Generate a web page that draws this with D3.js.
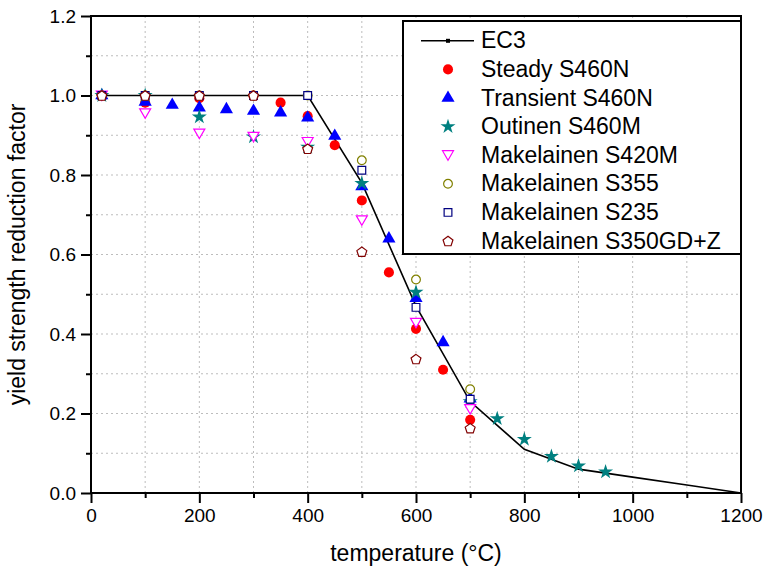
<!DOCTYPE html>
<html>
<head>
<meta charset="utf-8">
<script src="https://cdn.jsdelivr.net/npm/d3@7"></script>
<style>
  body { margin: 0; background: #fff; }
  svg { display: block; font-family: "Liberation Sans", Arial, sans-serif; }
</style>
</head>
<body>
<svg width="763" height="570"></svg>
<script>
// EC3 reduction curve
const ec3Temp = [20, 100, 200, 300, 400, 500, 600, 700, 800, 900, 1000, 1100, 1200];
const ec3Val  = [1.0, 1.0, 1.0, 1.0, 1.0, 0.78, 0.47, 0.23, 0.11, 0.06, 0.04, 0.02, 0.0];

// test data, temperature / reduction factor
const steadyTemp = [20, 100, 200, 300, 350, 400, 450, 500, 550, 600, 650, 700];
const steadyVal  = [1.0, 0.982, 0.993, 1.0, 0.982, 0.948, 0.875, 0.736, 0.555, 0.413, 0.31, 0.184];

const transTemp = [20, 100, 150, 200, 250, 300, 350, 400, 450, 500, 550, 600, 650, 700];
const transVal  = [1.0, 0.984, 0.976, 0.969, 0.965, 0.961, 0.957, 0.944, 0.898, 0.771, 0.64, 0.49, 0.379, 0.237];

const outinenTemp = [20, 100, 200, 300, 400, 500, 600, 700, 750, 800, 850, 900, 950];
const outinenVal  = [1.0, 1.0, 0.946, 0.896, 0.87, 0.779, 0.505, 0.23, 0.187, 0.135, 0.092, 0.068, 0.053];

const mak420Temp = [20, 100, 200, 300, 400, 500, 600, 700];
const mak420Val  = [1.0, 0.955, 0.904, 0.896, 0.883, 0.686, 0.428, 0.211];

const mak355Temp = [20, 100, 200, 300, 400, 500, 600, 700];
const mak355Val  = [1.0, 1.0, 1.0, 1.0, 1.0, 0.837, 0.537, 0.261];

const mak235Temp = [20, 100, 200, 300, 400, 500, 600, 700];
const mak235Val  = [1.0, 1.0, 1.0, 1.0, 1.0, 0.812, 0.467, 0.236];

const mak350Temp = [20, 100, 200, 300, 400, 500, 600, 700];
const mak350Val  = [1.0, 1.0, 1.0, 1.0, 0.866, 0.607, 0.337, 0.163];

const xTicks = [0, 200, 400, 600, 800, 1000, 1200];
const yTicks = [0.0, 0.2, 0.4, 0.6, 0.8, 1.0, 1.2];

// series setup: label, data, symbol, colour, filled
const series = [
    { name: "Steady S460N", t: steadyTemp, v: steadyVal, sym: d3.symbolCircle, size: 80, color: "#ff0000", filled: true },
    { name: "Transient S460N", t: transTemp, v: transVal, sym: d3.symbolTriangle, size: 75, color: "#0000ff", filled: true },
    { name: "Outinen S460M", t: outinenTemp, v: outinenVal, sym: d3.symbolStar, size: 70, color: "#008080", filled: true },
    { name: "Makelainen S420M", t: mak420Temp, v: mak420Val, sym: "down", size: 60, color: "#ff00ff", filled: false },
    { name: "Makelainen S355", t: mak355Temp, v: mak355Val, sym: d3.symbolCircle, size: 60, color: "#808000", filled: false },
    { name: "Makelainen S235", t: mak235Temp, v: mak235Val, sym: d3.symbolSquare, size: 60, color: "#000080", filled: false },
    { name: "Makelainen S350GD+Z", t: mak350Temp, v: mak350Val, sym: "pent", size: 60, color: "#800000", filled: false }
];

const svg = d3.select("svg");

const mLeft = 91, mRight = 741, mTop = 16, mBottom = 493;

const x = d3.scaleLinear().domain([0, 1200]).range([mLeft, mRight]);
const y = d3.scaleLinear().domain([0, 1.2]).range([mBottom, mTop]);

// pentagon and downward triangle paths
function pentagon(r) {
    const pts = d3.range(5).map(i => {
        const a = -Math.PI / 2 + i * 2 * Math.PI / 5;
        return [r * Math.cos(a), r * Math.sin(a) + r * 0.1];
    });
    return "M" + pts.map(p => p.join(",")).join("L") + "Z";
}
function symbolPath(s) {
    if (s.sym === "pent") return pentagon(5.2);
    if (s.sym === "down") return "M-5.5,-4.5L5.5,-4.5L0,5Z";
    return d3.symbol(s.sym, s.size)();
}

// Dotted grid
const grid = svg.append("g");
d3.range(100, 1200, 100).forEach(t => {
    grid.append("line")
        .attr("x1", x(t)).attr("x2", x(t))
        .attr("y1", mTop).attr("y2", mBottom)
        .attr("stroke", "#bdbdbd").attr("stroke-dasharray", "2,3");
});
d3.range(1, 12).forEach(i => {
    const v = i / 10;
    grid.append("line")
        .attr("x1", mLeft).attr("x2", mRight)
        .attr("y1", y(v)).attr("y2", y(v))
        .attr("stroke", "#bdbdbd").attr("stroke-dasharray", "2,3");
});

// Axes
const xAxis = svg.append("g").attr("transform", `translate(0,${mBottom})`)
    .call(d3.axisBottom(x).tickValues(xTicks).tickSize(10).tickPadding(6).tickFormat(d3.format("d")));
const xMinor = svg.append("g").attr("transform", `translate(0,${mBottom})`)
    .call(d3.axisBottom(x).tickValues(d3.range(100, 1200, 200)).tickSize(5).tickFormat(""));
const yAxis = svg.append("g").attr("transform", `translate(${mLeft},0)`)
    .call(d3.axisLeft(y).tickValues(yTicks).tickSize(10).tickPadding(5).tickFormat(d3.format(".1f")));
const yMinor = svg.append("g").attr("transform", `translate(${mLeft},0)`)
    .call(d3.axisLeft(y).tickValues([0.1, 0.3, 0.5, 0.7, 0.9, 1.1]).tickSize(5).tickFormat(""));

[xAxis, xMinor, yAxis, yMinor].forEach(g => {
    g.select(".domain").remove();
    g.selectAll("line").attr("stroke", "#000").attr("stroke-width", 2);
    g.selectAll("text").attr("font-size", "19px").attr("fill", "#000")
        .attr("font-family", "'Liberation Sans', Arial, sans-serif");
});

// plot frame
svg.append("rect")
    .attr("x", mLeft).attr("y", mTop)
    .attr("width", mRight - mLeft).attr("height", mBottom - mTop)
    .attr("fill", "none").attr("stroke", "#000").attr("stroke-width", 2);

// EC3 line
const ec3 = ec3Temp.map((t, i) => [t, ec3Val[i]]);
svg.append("path")
    .datum(ec3)
    .attr("d", d3.line().x(d => x(d[0])).y(d => y(d[1])))
    .attr("fill", "none").attr("stroke", "#000").attr("stroke-width", 1.6);

// markers
series.forEach(s => {
    const pts = s.t.map((t, i) => [t, s.v[i]]);
    svg.append("g").selectAll("path").data(pts).join("path")
        .attr("transform", d => `translate(${x(d[0])},${y(d[1])})`)
        .attr("d", symbolPath(s))
        .attr("fill", s.filled ? s.color : "#fff")
        .attr("stroke", s.color)
        .attr("stroke-width", s.filled ? 0 : 1.2);
});

// Legend
const lg = svg.append("g");
lg.append("rect")
    .attr("x", 403).attr("y", 21).attr("width", mRight - 403).attr("height", 233)
    .attr("fill", "#fff").attr("stroke", "#000").attr("stroke-width", 2);

const rowH = 28.6, firstBase = 48.3;
lg.append("line").attr("x1", 421).attr("x2", 474)
    .attr("y1", firstBase - 7.5).attr("y2", firstBase - 7.5)
    .attr("stroke", "#000").attr("stroke-width", 1.5);
lg.append("rect").attr("x", 446).attr("y", firstBase - 9.5)
    .attr("width", 4).attr("height", 4).attr("fill", "#000");
lg.append("text").attr("x", 481).attr("y", firstBase)
    .attr("font-size", "23px").text("EC3");

series.forEach((s, i) => {
    const by = firstBase + (i + 1) * rowH;
    lg.append("path")
        .attr("transform", `translate(448,${by - 7.5})`)
        .attr("d", symbolPath(s))
        .attr("fill", s.filled ? s.color : "#fff")
        .attr("stroke", s.color)
        .attr("stroke-width", s.filled ? 0 : 1.2);
    lg.append("text").attr("x", 481).attr("y", by)
        .attr("font-size", "23px").text(s.name);
});

// Axis titles
svg.append("text")
    .attr("x", (mLeft + mRight) / 2).attr("y", 561)
    .attr("text-anchor", "middle").attr("font-size", "23px")
    .text("temperature (°C)");
svg.append("text")
    .attr("transform", `translate(25,${(mTop + mBottom) / 2}) rotate(-90)`)
    .attr("text-anchor", "middle").attr("font-size", "23px")
    .text("yield strength reduction factor");
</script>
</body>
</html>
